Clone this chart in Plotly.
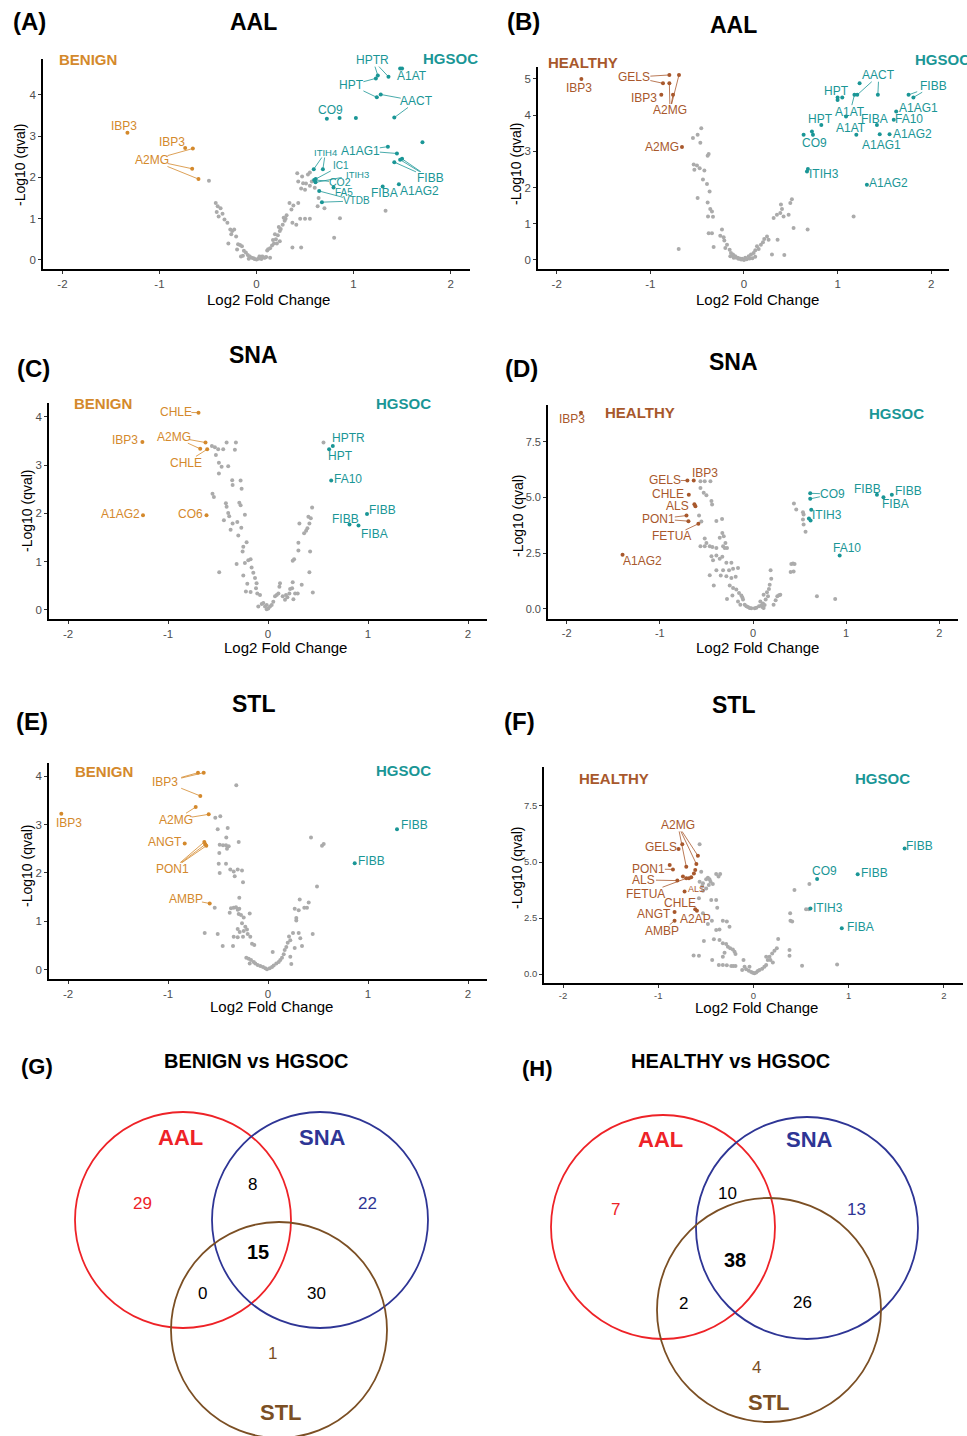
import math
import plotly.graph_objects as go

W, H = 967, 1436
FONT = "Liberation Sans, Arial, sans-serif"

# ======================= DATA =======================
# colours
C_BENIGN = "#D4892C"
C_HEALTHY = "#A8582C"
C_HGSOC = "#1A9696"
C_GRAY = "#ABABAB"

# ---------- Panel A : AAL, BENIGN vs HGSOC ----------
A_gray = [(-0.49, 1.92), (-0.42, 1.38), (-0.40, 1.30), (-0.37, 1.25), (-0.41, 1.16), (-0.35, 1.12),
          (-0.39, 1.05), (-0.33, 0.98), (-0.30, 0.90), (-0.27, 0.74), (-0.25, 0.70), (-0.23, 0.74),
          (-0.26, 0.62), (-0.21, 0.57), (-0.29, 0.40), (-0.19, 0.38), (-0.17, 0.36), (-0.15, 0.33),
          (-0.20, 0.25), (-0.13, 0.22), (-0.11, 0.18), (-0.09, 0.12), (-0.14, 0.10), (-0.07, 0.08),
          (-0.05, 0.05), (-0.03, 0.04), (-0.02, 0.02), (-0.08, 0.03), (-0.16, 0.08), (0.00, 0.01),
          (0.02, 0.03), (0.04, 0.06), (0.06, 0.08), (0.08, 0.05), (0.05, 0.02), (0.10, 0.07),
          (0.03, 0.08), (0.11, 0.23), (0.12, 0.26), (0.14, 0.28), (0.16, 0.35), (0.18, 0.40),
          (0.17, 0.48), (0.20, 0.50), (0.22, 0.60), (0.19, 0.62), (0.24, 0.70), (0.25, 0.75),
          (0.23, 0.80), (0.27, 0.85), (0.29, 0.95), (0.30, 1.00), (0.28, 1.02), (0.31, 1.08),
          (0.34, 1.38), (0.36, 1.22), (0.38, 1.32), (0.43, 1.38), (0.45, 1.00), (0.50, 1.00),
          (0.55, 1.00), (0.37, 0.90), (0.41, 0.85), (0.24, 0.45), (0.21, 0.40), (0.37, 0.30),
          (0.46, 0.30), (0.09, 0.06), (0.14, 0.05), (0.42, 2.10), (0.47, 2.02), (0.43, 1.90),
          (0.48, 1.86), (0.53, 2.07), (0.55, 2.12), (0.51, 1.85), (0.55, 1.80), (0.57, 1.90),
          (0.50, 1.70), (0.46, 1.73), (0.60, 1.75), (0.64, 1.50), (0.63, 1.30), (0.70, 1.25),
          (0.86, 1.01), (0.80, 0.54), (1.33, 1.19)]
A_low = [("IBP3", -1.33, 3.08), ("IBP3", -0.735, 2.71), ("A2MG", -0.656, 2.70),
         ("A2MG", -0.663, 2.21), ("A2MG", -0.598, 1.96)]
A_high = [("HPTR", 1.25, 4.47), ("HPTR", 1.36, 4.44), ("HPT", 1.23, 4.40), ("HPT", 1.24, 3.94),
          ("A1AT", 1.48, 4.64), ("A1AT", 1.50, 4.64), ("AACT", 1.28, 4.01), ("AACT", 1.42, 3.45),
          ("CO9", 0.725, 3.42), ("-", 0.856, 3.44), ("-", 1.024, 3.44), ("FA10", 2.25, 2.89),
          ("-", 1.71, 2.85), ("A1AG1", 1.354, 2.745), ("A1AG1", 1.447, 2.58), ("FIBB", 1.42, 2.37),
          ("FIBB", 1.48, 2.43), ("FIBB", 1.50, 2.45), ("FIBA", 1.30, 1.78), ("A1AG2", 1.467, 1.835),
          ("ITIH4", 0.59, 2.20), ("ITIH4", 0.684, 2.20), ("IC1", 0.61, 1.96), ("ITIH3", 0.608, 1.88),
          ("CO2", 0.594, 1.94), ("FA5", 0.794, 1.755), ("VTDB", 0.646, 1.67), ("VTDB", 0.674, 1.40)]

# ---------- Panel B : AAL, HEALTHY vs HGSOC ----------
B_gray = [(-0.456, 3.64), (-0.545, 3.37), (-0.495, 3.46), (-0.466, 3.24), (-0.377, 2.93), (-0.388, 2.88),
          (-0.537, 2.64), (-0.502, 2.61), (-0.473, 2.53), (-0.530, 2.49), (-0.423, 2.47), (-0.438, 2.22),
          (-0.395, 2.10), (-0.367, 1.89), (-0.495, 1.71), (-0.388, 1.59), (-0.360, 1.41), (-0.342, 1.34),
          (-0.384, 1.20), (-0.331, 1.19), (-0.377, 0.74), (-0.342, 0.74), (-0.235, 0.84), (-0.253, 0.67),
          (-0.217, 0.63), (-0.210, 0.54), (-0.324, 0.36), (-0.181, 0.42), (-0.199, 0.33), (-0.153, 0.28),
          (-0.139, 0.19), (-0.117, 0.15), (-0.093, 0.10), (-0.068, 0.06), (-0.046, 0.04), (-0.146, 0.10),
          (-0.110, 0.06), (-0.697, 0.30), (-0.020, 0.03), (0.014, 0.06), (0.050, 0.10), (0.075, 0.15),
          (0.103, 0.19), (0.121, 0.27), (0.157, 0.30), (0.139, 0.38), (0.181, 0.42), (0.203, 0.49),
          (0.217, 0.58), (0.246, 0.65), (0.263, 0.56), (0.299, 0.15), (0.359, 0.56), (0.431, 0.14),
          (0.317, 1.16), (0.352, 1.25), (0.388, 1.30), (0.406, 1.41), (0.395, 1.53), (0.423, 1.20),
          (0.477, 1.25), (0.495, 1.57), (0.512, 1.68), (0.530, 0.88), (0.680, 0.84), (1.171, 1.20),
          (0.000, 0.00), (-0.030, 0.01), (0.030, 0.02), (0.060, 0.04), (-0.060, 0.03), (0.090, 0.05),
          (-0.090, 0.07), (0.120, 0.09), (-0.120, 0.12)]
B_low = [("IBP3", -1.737, 5.00), ("GELS", -0.797, 5.11), ("GELS", -0.865, 4.88), ("A2MG", -0.694, 5.11),
         ("A2MG", -0.797, 4.88), ("A2MG", -0.758, 4.56), ("IBP3", -0.883, 4.56), ("A2MG", -0.662, 3.12)]
B_high = [("-", 1.235, 4.88), ("AACT", 1.21, 4.56), ("AACT", 1.43, 4.56), ("HPT", 1.00, 4.49),
          ("-", 1.05, 4.49), ("-", 1.00, 4.42), ("A1AT", 1.18, 4.56), ("-", 1.09, 3.96),
          ("HPT", 0.826, 3.73), ("CO9", 0.726, 3.55), ("-", 0.737, 3.46), ("-", 0.637, 3.46),
          ("FIBA", 1.42, 3.73), ("A1AT", 1.20, 3.46), ("FIBB", 1.758, 4.56), ("FIBB", 1.81, 4.49),
          ("A1AG1", 1.626, 4.10), ("FA10", 1.60, 3.87), ("A1AG2", 1.555, 3.47), ("A1AG1", 1.45, 3.47),
          ("ITIH3", 0.683, 2.51), ("-", 0.673, 2.44), ("A1AG2", 1.313, 2.08)]

# ---------- Panel C : SNA, BENIGN vs HGSOC ----------
C_gray = [(-0.561, 3.40), (-0.531, 3.37), (-0.498, 3.33), (-0.521, 3.21), (-0.448, 3.33), (-0.414, 3.47),
          (-0.321, 3.47), (-0.331, 3.32), (-0.491, 3.05), (-0.398, 2.98), (-0.464, 2.97), (-0.491, 2.83),
          (-0.358, 2.69), (-0.354, 2.59), (-0.274, 2.68), (-0.264, 2.51), (-0.555, 2.41), (-0.541, 2.34),
          (-0.421, 2.21), (-0.414, 2.14), (-0.287, 2.22), (-0.274, 2.17), (-0.398, 2.01), (-0.388, 1.94),
          (-0.441, 1.86), (-0.354, 1.79), (-0.231, 1.97), (-0.307, 1.82), (-0.267, 1.70), (-0.297, 1.54),
          (-0.374, 1.66), (-0.214, 1.40), (-0.247, 1.31), (-0.254, 1.21), (-0.197, 1.03), (-0.174, 1.05),
          (-0.314, 0.95), (-0.231, 0.97), (-0.488, 0.78), (-0.164, 0.88), (-0.147, 0.77), (-0.247, 0.71),
          (-0.130, 0.66), (-0.207, 0.54), (-0.114, 0.55), (-0.120, 0.45), (-0.221, 0.38), (-0.174, 0.37),
          (-0.107, 0.34), (-0.080, 0.31), (-0.097, 0.07), (-0.063, 0.12), (-0.047, 0.14), (-0.030, 0.07),
          (-0.013, 0.01), (0.003, 0.03), (0.020, 0.07), (0.037, 0.10), (-0.013, 0.10), (0.053, 0.17),
          (0.070, 0.28), (0.087, 0.31), (0.104, 0.34), (0.120, 0.55), (0.114, 0.48), (0.147, 0.28),
          (0.170, 0.21), (0.180, 0.31), (0.194, 0.26), (0.214, 0.34), (0.221, 0.43), (0.241, 0.45),
          (0.254, 0.22), (0.271, 0.34), (0.297, 0.34), (0.247, 0.57), (0.247, 1.02), (0.261, 1.05),
          (0.337, 0.52), (0.304, 1.23), (0.304, 1.39), (0.314, 1.79), (0.361, 1.59), (0.381, 1.64),
          (0.394, 1.69), (0.414, 1.79), (0.428, 1.90), (0.404, 1.93), (0.441, 2.12), (0.421, 1.21),
          (0.414, 0.78), (0.448, 0.36), (0.555, 3.47)]
C_low = [("CHLE", -0.695, 4.09), ("IBP3", -1.256, 3.48), ("A2MG", -0.625, 3.47), ("A2MG", -0.678, 3.34),
         ("CHLE", -0.608, 3.33), ("A1AG2", -1.25, 1.96), ("CO6", -0.615, 1.96)]
C_high = [("HPTR", 0.648, 3.40), ("HPT", 0.611, 3.33), ("FA10", 0.632, 2.68), ("FIBB", 0.99, 1.99),
          ("FIBB", 0.815, 1.77), ("FIBA", 0.905, 1.75)]

# ---------- Panel D : SNA, HEALTHY vs HGSOC ----------
D_gray = [(-0.564, 5.73), (-0.518, 5.73), (-0.457, 5.73), (-0.564, 5.43), (-0.529, 5.21), (-0.500, 5.10),
          (-0.446, 4.84), (-0.439, 4.69), (-0.579, 4.19), (-0.554, 3.92), (-0.393, 3.95), (-0.332, 4.04),
          (-0.518, 3.16), (-0.500, 2.96), (-0.564, 2.81), (-0.518, 2.81), (-0.464, 2.81), (-0.436, 2.78),
          (-0.393, 2.74), (-0.357, 3.19), (-0.329, 3.41), (-0.314, 3.26), (-0.296, 2.96), (-0.279, 2.74),
          (-0.321, 2.81), (-0.304, 2.74), (-0.446, 2.37), (-0.393, 2.40), (-0.357, 2.25), (-0.329, 2.34),
          (-0.429, 2.19), (-0.286, 2.07), (-0.232, 2.07), (-0.214, 1.80), (-0.161, 1.84), (-0.393, 1.74),
          (-0.321, 1.74), (-0.257, 1.74), (-0.464, 1.51), (-0.346, 1.50), (-0.286, 1.47), (-0.232, 1.39),
          (-0.186, 1.44), (-0.421, 1.05), (-0.250, 1.05), (-0.214, 0.94), (-0.179, 0.87), (-0.150, 0.72),
          (-0.125, 0.60), (-0.114, 0.52), (-0.279, 0.45), (-0.221, 0.60), (-0.161, 0.34), (-0.136, 0.19),
          (-0.089, 0.19), (-0.071, 0.12), (-0.054, 0.09), (-0.036, 0.04), (-0.018, 0.03), (-0.107, 0.42),
          (0.018, 0.03), (0.036, 0.06), (0.064, 0.12), (0.089, 0.15), (0.107, 0.24), (0.079, 0.34),
          (0.125, 0.18), (0.136, 0.42), (0.161, 0.57), (0.114, 0.64), (0.150, 0.75), (0.171, 0.90),
          (0.179, 1.09), (0.196, 1.35), (0.189, 1.74), (0.221, 0.19), (0.243, 0.39), (0.261, 0.57),
          (0.279, 0.61), (0.293, 0.64), (0.411, 2.02), (0.429, 2.04), (0.446, 2.02), (0.404, 1.66),
          (0.436, 1.68), (0.439, 4.73), (0.464, 4.46), (0.536, 4.34), (0.543, 4.24), (0.536, 4.01),
          (0.543, 3.79), (0.564, 3.46), (0.686, 0.57), (0.882, 0.45), (0.100, 0.09), (0.114, 0.04)]
D_low = [("IBP3", -1.846, 8.80), ("GELS", -0.704, 5.76), ("IBP3", -0.636, 5.76), ("CHLE", -0.689, 5.12),
         ("ALS", -0.629, 4.70), ("-", -0.618, 4.61), ("PON1", -0.714, 4.19), ("PON1", -0.693, 3.94),
         ("FETUA", -0.586, 3.82), ("A1AG2", -1.40, 2.43)]
D_high = [("CO9", 0.614, 5.19), ("CO9", 0.614, 4.94), ("ITIH3", 0.625, 4.45), ("ITIH3", 0.600, 4.06),
          ("-", 0.618, 3.97), ("FIBB", 1.33, 5.12), ("FIBB", 1.49, 5.12), ("FIBA", 1.40, 5.01),
          ("FA10", 0.93, 2.40)]

# ---------- Panel E : STL, BENIGN vs HGSOC ----------
E_gray = [(-0.317, 3.81), (-0.527, 3.14), (-0.477, 3.17), (-0.503, 2.90), (-0.403, 2.93), (-0.417, 2.73),
          (-0.483, 2.58), (-0.450, 2.57), (-0.420, 2.57), (-0.393, 2.55), (-0.410, 2.50), (-0.293, 2.64),
          (-0.487, 2.41), (-0.493, 2.19), (-0.420, 2.19), (-0.377, 2.07), (-0.343, 2.03), (-0.303, 2.07),
          (-0.260, 2.05), (-0.483, 2.00), (-0.333, 1.93), (-0.250, 1.81), (-0.287, 1.49), (-0.533, 1.28),
          (-0.370, 1.27), (-0.343, 1.28), (-0.320, 1.29), (-0.303, 1.24), (-0.287, 1.26), (-0.383, 1.18),
          (-0.293, 1.15), (-0.270, 1.13), (-0.243, 1.08), (-0.183, 1.16), (-0.260, 0.96), (-0.227, 0.89),
          (-0.303, 0.84), (-0.283, 0.78), (-0.243, 0.80), (-0.210, 0.83), (-0.203, 0.74), (-0.177, 0.68),
          (-0.160, 0.54), (-0.137, 0.51), (-0.343, 0.68), (-0.303, 0.67), (-0.250, 0.68), (-0.350, 0.49),
          (-0.633, 0.76), (-0.503, 0.74), (-0.453, 0.49), (-0.217, 0.25), (-0.193, 0.23), (-0.170, 0.20),
          (-0.143, 0.16), (-0.127, 0.13), (-0.103, 0.10), (-0.077, 0.08), (-0.050, 0.06), (-0.027, 0.03),
          (-0.010, 0.01), (-0.183, 0.13), (0.017, 0.03), (0.040, 0.06), (0.057, 0.09), (0.083, 0.13),
          (0.107, 0.16), (0.123, 0.20), (0.140, 0.25), (0.047, 0.37), (0.157, 0.32), (0.167, 0.41),
          (0.183, 0.47), (0.197, 0.56), (0.223, 0.61), (0.210, 0.69), (0.223, 0.27), (0.233, 0.12),
          (0.250, 0.76), (0.267, 0.45), (0.283, 1.02), (0.283, 1.07), (0.307, 1.23), (0.267, 1.26),
          (0.317, 1.45), (0.363, 1.28), (0.390, 1.28), (0.407, 1.39), (0.323, 0.65), (0.340, 0.49),
          (0.307, 0.76), (0.447, 0.74), (0.490, 1.72), (0.430, 2.73), (0.540, 2.56), (0.557, 2.60)]
E_low = [("IBP3", -2.067, 3.22), ("IBP3", -0.700, 4.07), ("IBP3", -0.643, 4.07), ("IBP3", -0.677, 3.59),
         ("A2MG", -0.723, 3.36), ("A2MG", -0.593, 3.21), ("ANGT", -0.833, 2.61), ("PON1", -0.637, 2.64),
         ("PON1", -0.627, 2.59), ("PON1", -0.617, 2.56), ("AMBP", -0.583, 1.37)]
E_high = [("FIBB", 1.29, 2.90), ("FIBB", 0.867, 2.20)]

# ---------- Panel F : STL, HEALTHY vs HGSOC ----------
F_gray = [(-0.566, 5.79), (-0.549, 4.57), (-0.566, 4.12), (-0.531, 4.05), (-0.538, 3.93), (-0.497, 4.23),
          (-0.479, 4.30), (-0.462, 4.23), (-0.451, 4.12), (-0.427, 4.02), (-0.392, 4.46), (-0.350, 4.46),
          (-0.367, 4.35), (-0.497, 3.82), (-0.469, 3.97), (-0.531, 3.72), (-0.573, 3.38), (-0.444, 3.30),
          (-0.392, 3.30), (-0.381, 2.96), (-0.531, 2.71), (-0.479, 2.23), (-0.437, 2.38), (-0.392, 1.96),
          (-0.357, 1.99), (-0.322, 2.38), (-0.280, 2.34), (-0.252, 2.11), (-0.521, 1.47), (-0.416, 1.55),
          (-0.357, 1.52), (-0.322, 1.37), (-0.287, 1.34), (-0.269, 1.22), (-0.245, 1.15), (-0.217, 1.10),
          (-0.199, 1.00), (-0.189, 0.89), (-0.629, 0.83), (-0.573, 0.82), (-0.434, 0.63), (-0.364, 0.40),
          (-0.322, 0.40), (-0.280, 0.39), (-0.234, 0.36), (-0.213, 0.36), (-0.189, 0.36), (-0.322, 0.77),
          (-0.304, 0.95), (-0.105, 0.63), (-0.094, 0.33), (-0.077, 0.21), (-0.049, 0.15), (-0.024, 0.09),
          (-0.007, 0.06), (0.010, 0.03), (0.028, 0.07), (0.045, 0.13), (0.063, 0.18), (0.091, 0.24),
          (0.115, 0.33), (0.133, 0.40), (0.150, 0.63), (0.168, 0.77), (0.196, 0.92), (0.220, 1.04),
          (0.245, 1.15), (0.259, 1.56), (0.133, 0.77), (0.178, 0.63), (0.203, 0.51), (-0.042, 0.33),
          (-0.119, 0.18), (0.385, 2.71), (0.378, 1.07), (0.378, 0.82), (0.388, 2.38), (0.406, 2.35),
          (0.430, 3.75), (0.510, 0.37), (0.552, 2.89), (0.580, 2.89), (0.587, 4.02), (0.878, 0.43)]
F_low = [("A2MG", -0.706, 4.79), ("A2MG", -0.600, 4.91), ("A2MG", -0.584, 5.28), ("GELS", -0.787, 5.58),
         ("-", -0.748, 5.79), ("PON1", -0.880, 4.87), ("-", -0.846, 4.67), ("ALS", -0.800, 4.17),
         ("FETUA", -0.706, 4.27), ("-", -0.741, 4.35), ("-", -0.678, 4.27), ("-", -0.654, 4.32),
         ("-", -0.626, 4.49), ("-", -0.612, 4.64), ("ALS", -0.724, 3.68), ("CHLE", -0.612, 2.89),
         ("A2AP", -0.594, 2.83), ("ANGT", -0.829, 2.77), ("AMBP", -0.829, 2.38)]
F_high = [("FIBB", 1.587, 5.60), ("CO9", 0.668, 4.24), ("FIBB", 1.094, 4.45), ("ITIH3", 0.598, 2.92),
          ("FIBA", 0.927, 2.04)]

# ---------- Venn counts ----------
VENN_SETS = ["AAL", "SNA", "STL"]
VENN_REGIONS = ["AAL", "SNA", "STL", "AAL&SNA", "AAL&STL", "SNA&STL", "AAL&SNA&STL"]
G_counts = [29, 22, 1, 8, 0, 30, 15]
H_counts = [7, 13, 4, 10, 2, 26, 38]

# ======================= LAYOUT (positions / styles) =======================
# label placement: (text, label_x, label_y, side, point indices, font size)
A_labels = [("IBP3", -1.37, 3.24, "lo", [0], 12), ("IBP3", -0.87, 2.86, "lo", [1], 12),
            ("A2MG", -1.08, 2.42, "lo", [2, 3, 4], 12),
            ("HPTR", 1.20, 4.84, "hi", [0, 1], 12), ("A1AT", 1.60, 4.45, "hi", [4, 5], 12),
            ("HPT", 0.975, 4.24, "hi", [2, 3], 12), ("AACT", 1.65, 3.85, "hi", [6, 7], 12),
            ("CO9", 0.76, 3.63, "hi", [8], 12), ("FA10", 2.29, 3.07, "hi", [11], 12),
            ("A1AG1", 1.07, 2.65, "hi", [13, 14], 12), ("FIBB", 1.79, 1.98, "hi", [15, 16, 17], 12),
            ("FIBA", 1.32, 1.62, "hi", [18], 12), ("A1AG2", 1.68, 1.68, "hi", [19], 12),
            ("ITIH4", 0.71, 2.61, "hi", [20, 21], 9.5), ("IC1", 0.87, 2.29, "hi", [22], 10),
            ("ITIH3", 1.04, 2.07, "hi", [23], 9.5), ("CO2", 0.86, 1.88, "hi", [24], 10.5),
            ("FA5", 0.90, 1.63, "hi", [25], 10), ("VTDB", 1.03, 1.43, "hi", [26, 27], 10)]
B_labels = [("IBP3", -1.76, 4.74, "lo", [0], 12), ("GELS", -1.17, 5.05, "lo", [1, 2], 12),
            ("IBP3", -1.07, 4.47, "lo", [6], 12), ("A2MG", -0.79, 4.13, "lo", [3, 4, 5], 12),
            ("A2MG", -0.875, 3.13, "lo", [7], 12),
            ("AACT", 1.44, 5.10, "hi", [1, 2], 12), ("HPT", 0.99, 4.68, "hi", [3], 12),
            ("A1AT", 1.135, 4.10, "hi", [6], 12), ("HPT", 0.815, 3.89, "hi", [8], 12),
            ("CO9", 0.75, 3.23, "hi", [9], 12), ("FIBA", 1.39, 3.90, "hi", [12], 12),
            ("A1AT", 1.146, 3.64, "hi", [13], 12), ("FIBB", 2.02, 4.81, "hi", [14, 15], 12),
            ("A1AG1", 1.86, 4.21, "hi", [16], 12), ("FA10", 1.765, 3.89, "hi", [17], 12),
            ("A1AG2", 1.80, 3.47, "hi", [18], 12), ("A1AG1", 1.47, 3.18, "hi", [19], 12),
            ("ITIH3", 0.85, 2.38, "hi", [20], 12), ("A1AG2", 1.545, 2.12, "hi", [22], 12)]
C_labels = [("CHLE", -0.925, 4.10, "lo", [0], 12), ("IBP3", -1.433, 3.52, "lo", [1], 12),
            ("A2MG", -0.942, 3.59, "lo", [2, 3], 12), ("CHLE", -0.822, 3.05, "lo", [4], 12),
            ("A1AG2", -1.48, 1.98, "lo", [5], 12), ("CO6", -0.78, 1.98, "lo", [6], 12),
            ("HPTR", 0.80, 3.57, "hi", [0], 12), ("HPT", 0.72, 3.19, "hi", [1], 12),
            ("FA10", 0.795, 2.71, "hi", [2], 12), ("FIBB", 1.14, 2.07, "hi", [3], 12),
            ("FIBB", 0.77, 1.88, "hi", [4], 12), ("FIBA", 1.066, 1.57, "hi", [5], 12)]
D_labels = [("IBP3", -1.94, 8.50, "lo", [0], 12), ("GELS", -0.946, 5.78, "lo", [1], 12),
            ("IBP3", -0.51, 6.08, "lo", [2], 12), ("CHLE", -0.91, 5.15, "lo", [3], 12),
            ("ALS", -0.81, 4.60, "lo", [4], 12), ("PON1", -1.01, 4.04, "lo", [6, 7], 12),
            ("FETUA", -0.871, 3.26, "lo", [8], 12), ("A1AG2", -1.19, 2.14, "lo", [9], 12),
            ("CO9", 0.85, 5.15, "hi", [0, 1], 12), ("ITIH3", 0.793, 4.21, "hi", [2, 3], 12),
            ("FIBB", 1.225, 5.39, "hi", [5], 12), ("FIBB", 1.67, 5.30, "hi", [6], 12),
            ("FIBA", 1.53, 4.69, "hi", [7], 12), ("FA10", 1.01, 2.72, "hi", [8], 12)]
E_labels = [("IBP3", -1.99, 3.04, "lo", [0], 12), ("IBP3", -1.027, 3.88, "lo", [1, 2, 3], 12),
            ("A2MG", -0.92, 3.10, "lo", [4, 5], 12), ("ANGT", -1.027, 2.63, "lo", [6], 12),
            ("PON1", -0.953, 2.08, "lo", [7, 8, 9], 12), ("AMBP", -0.82, 1.46, "lo", [10], 12),
            ("FIBB", 1.467, 2.99, "hi", [0], 12), ("FIBB", 1.03, 2.24, "hi", [1], 12)]
F_labels = [("A2MG", -0.794, 6.65, "lo", [0, 1, 2], 12), ("GELS", -0.969, 5.65, "lo", [3], 12),
            ("PON1", -1.098, 4.69, "lo", [5, 6], 12), ("ALS", -1.154, 4.20, "lo", [7], 12),
            ("FETUA", -1.136, 3.59, "lo", [8], 12), ("ALS", -0.594, 3.78, "lo", [14], 9),
            ("CHLE", -0.769, 3.18, "lo", [15], 12), ("ANGT", -1.045, 2.66, "lo", [17], 12),
            ("A2AP", -0.608, 2.46, "lo", [16], 12), ("AMBP", -0.962, 1.92, "lo", [18], 12),
            ("FIBB", 1.748, 5.71, "hi", [0], 12), ("CO9", 0.748, 4.61, "hi", [1], 12),
            ("FIBB", 1.27, 4.51, "hi", [2], 12), ("ITIH3", 0.78, 2.93, "hi", [3], 12),
            ("FIBA", 1.119, 2.10, "hi", [4], 12)]

YT_SMALL = ([0, 1, 2, 3, 4], ["0", "1", "2", "3", "4"])
YT_B = ([0, 1, 2, 3, 4, 5], ["0", "1", "2", "3", "4", "5"])
YT_BIG = ([0, 2.5, 5, 7.5], ["0.0", "2.5", "5.0", "7.5"])

PANELS = [
    dict(tag="(A)", title="AAL", left="BENIGN", lcol=C_BENIGN, gray=A_gray, low=A_low, high=A_high,
         labels=A_labels, xpx=(43, 470), ypx=(59, 269), xr=(-2.2, 2.2), yr=(-0.22, 4.87), yt=YT_SMALL,
         tick=11.5, tagpos=(29, 21), titlepos=(253, 22), leftpos=(88, 59), hgpos=(450, 58),
         xtpos=(268, 300), ytpos=(20, 165)),
    dict(tag="(B)", title="AAL", left="HEALTHY", lcol=C_HEALTHY, gray=B_gray, low=B_low, high=B_high,
         labels=B_labels, xpx=(538, 949), ypx=(67, 269), xr=(-2.2, 2.19), yr=(-0.25, 5.33), yt=YT_B,
         tick=11.5, tagpos=(523, 21), titlepos=(733, 25), leftpos=(583, 62), hgpos=(942, 59),
         xtpos=(757, 300), ytpos=(516, 164)),
    dict(tag="(C)", title="SNA", left="BENIGN", lcol=C_BENIGN, gray=C_gray, low=C_low, high=C_high,
         labels=C_labels, xpx=(49, 487), ypx=(403, 619), xr=(-2.19, 2.19), yr=(-0.19, 4.29), yt=YT_SMALL,
         tick=11.5, tagpos=(33, 368), titlepos=(253, 355), leftpos=(103, 403), hgpos=(403, 403),
         xtpos=(285, 647), ytpos=(27, 511)),
    dict(tag="(D)", title="SNA", left="HEALTHY", lcol=C_HEALTHY, gray=D_gray, low=D_low, high=D_high,
         labels=D_labels, xpx=(548, 958), ypx=(405, 619), xr=(-2.2, 2.2), yr=(-0.45, 9.15), yt=YT_BIG,
         tick=11, tagpos=(521, 368), titlepos=(733, 362), leftpos=(640, 412), hgpos=(896, 413),
         xtpos=(757, 647), ytpos=(518, 516)),
    dict(tag="(E)", title="STL", left="BENIGN", lcol=C_BENIGN, gray=E_gray, low=E_low, high=E_high,
         labels=E_labels, xpx=(49, 487), ypx=(763, 979), xr=(-2.19, 2.19), yr=(-0.19, 4.27), yt=YT_SMALL,
         tick=11.5, tagpos=(32, 722), titlepos=(253, 704), leftpos=(104, 771), hgpos=(403, 770),
         xtpos=(271, 1007), ytpos=(27, 866)),
    dict(tag="(F)", title="STL", left="HEALTHY", lcol=C_HEALTHY, gray=F_gray, low=F_low, high=F_high,
         labels=F_labels, xpx=(544, 963), ypx=(767, 983), xr=(-2.2, 2.2), yr=(-0.4, 9.24), yt=YT_BIG,
         tick=9.5, tagpos=(519, 722), titlepos=(733, 705), leftpos=(614, 778), hgpos=(882, 778),
         xtpos=(756, 1008), ytpos=(517, 868)),
]

VENNS = [
    dict(tag="(G)", title="BENIGN vs HGSOC", counts=G_counts, tagpos=(37, 1066), titlepos=(256, 1061),
         circles=[(183, 1220, 108), (320, 1220, 108), (279, 1330, 108)],
         setpos=[(180, 1137), (322, 1137), (281, 1412)],
         regpos=[(142, 1203), (367, 1203), (272, 1353), (252, 1184), (202, 1293), (316, 1293), (258, 1252)]),
    dict(tag="(H)", title="HEALTHY vs HGSOC", counts=H_counts, tagpos=(537, 1068), titlepos=(730, 1061),
         circles=[(663, 1227, 112), (807, 1228, 111), (769, 1310, 112)],
         setpos=[(660, 1139), (809, 1139), (769, 1402)],
         regpos=[(615, 1209), (856, 1209), (756, 1367), (727, 1193), (683, 1303), (802, 1302), (735, 1260)]),
]
VENN_COLORS = ["#EE2227", "#2E3595", "#7B4F24"]

# ======================= BUILD =======================
fig = go.Figure()
layout = dict(width=W, height=H, margin=dict(l=0, r=0, t=0, b=0), autosize=False,
              paper_bgcolor="white", plot_bgcolor="white", template="none", showlegend=False,
              font=dict(family=FONT, color="black"))
annotations = []
shapes = []


def px2paper(x, y):
    return x / W, 1 - y / H


def text_ann(pos, text, size, color="black", bold=False, angle=0):
    x, y = px2paper(*pos)
    annotations.append(dict(x=x, y=y, xref="paper", yref="paper", text=("<b>%s</b>" % text) if bold else text,
                            showarrow=False, xanchor="center", yanchor="middle", textangle=angle,
                            font=dict(family=FONT, size=size, color=color)))


for k, P in enumerate(PANELS):
    n = "" if k == 0 else str(k + 1)
    xa, ya = "x" + n, "y" + n
    x0, x1 = P["xpx"]
    y0, y1 = P["ypx"]
    common = dict(showline=True, linecolor="black", linewidth=1.7, ticks="outside", ticklen=3,
                  tickwidth=1.2, tickcolor="#333333",
                  tickfont=dict(family=FONT, size=P["tick"], color="#4D4D4D"),
                  showgrid=False, zeroline=False, automargin=False, fixedrange=True, mirror=False)
    layout["xaxis" + n] = dict(domain=[x0 / W, x1 / W], range=list(P["xr"]), anchor=ya,
                               tickmode="array", tickvals=[-2, -1, 0, 1, 2],
                               ticktext=["-2", "-1", "0", "1", "2"], **common)
    layout["yaxis" + n] = dict(domain=[1 - y1 / H, 1 - y0 / H], range=list(P["yr"]), anchor=xa,
                               tickmode="array", tickvals=P["yt"][0], ticktext=P["yt"][1], **common)

    sx = (x1 - x0) / (P["xr"][1] - P["xr"][0])
    sy = (y1 - y0) / (P["yr"][1] - P["yr"][0])

    # gray (non-significant) points
    fig.add_trace(go.Scatter(x=[p[0] for p in P["gray"]], y=[p[1] for p in P["gray"]], mode="markers",
                             marker=dict(size=4, color=C_GRAY), xaxis=xa, yaxis=ya, hoverinfo="skip",
                             cliponaxis=False))

    # repel segments
    segs = {"lo": ([], []), "hi": ([], [])}
    for text, lx, ly, side, idxs, size in P["labels"]:
        pts = P["low"] if side == "lo" else P["high"]
        hw = 0.30 * size * len(text) + 1.5
        hh = 0.45 * size + 1
        for i in idxs:
            tx, ty = pts[i][1], pts[i][2]
            dx = (tx - lx) * sx
            dy = (ty - ly) * sy
            ts = []
            if abs(dx) > 1e-9:
                ts.append(hw / abs(dx))
            if abs(dy) > 1e-9:
                ts.append(hh / abs(dy))
            t = min(ts) if ts else 1
            if t >= 1:
                continue
            if (1 - t) * math.hypot(dx, dy) < 5:
                continue
            segs[side][0].extend([lx + t * (tx - lx), tx, None])
            segs[side][1].extend([ly + t * (ty - ly), ty, None])
        col = P["lcol"] if side == "lo" else C_HGSOC
        annotations.append(dict(x=lx, y=ly, xref=xa, yref=ya, text=text, showarrow=False,
                                xanchor="center", yanchor="middle",
                                font=dict(family=FONT, size=size, color=col)))
    for side, col in (("lo", P["lcol"]), ("hi", C_HGSOC)):
        if segs[side][0]:
            fig.add_trace(go.Scatter(x=segs[side][0], y=segs[side][1], mode="lines",
                                     line=dict(color=col, width=0.8), xaxis=xa, yaxis=ya,
                                     hoverinfo="skip", cliponaxis=False))

    # significant points
    fig.add_trace(go.Scatter(x=[p[1] for p in P["low"]], y=[p[2] for p in P["low"]], mode="markers",
                             marker=dict(size=4, color=P["lcol"]), xaxis=xa, yaxis=ya,
                             text=[p[0] for p in P["low"]], cliponaxis=False))
    fig.add_trace(go.Scatter(x=[p[1] for p in P["high"]], y=[p[2] for p in P["high"]], mode="markers",
                             marker=dict(size=4, color=C_HGSOC), xaxis=xa, yaxis=ya,
                             text=[p[0] for p in P["high"]], cliponaxis=False))

    # panel texts
    text_ann(P["tagpos"], P["tag"], 24, bold=True)
    text_ann(P["titlepos"], P["title"], 23, bold=True)
    text_ann(P["leftpos"], P["left"], 15, color=P["lcol"], bold=True)
    text_ann(P["hgpos"], "HGSOC", 15, color=C_HGSOC, bold=True)
    text_ann(P["xtpos"], "Log2 Fold Change", 15)
    text_ann(P["ytpos"], "-Log10 (qval)", 14, angle=-90)

# Venn diagrams
for V in VENNS:
    text_ann(V["tagpos"], V["tag"], 22, bold=True)
    text_ann(V["titlepos"], V["title"], 20, bold=True)
    for (cx, cy, r), col, name, spos in zip(V["circles"], VENN_COLORS, VENN_SETS, V["setpos"]):
        shapes.append(dict(type="circle", xref="paper", yref="paper",
                           x0=(cx - r) / W, x1=(cx + r) / W, y0=1 - (cy + r) / H, y1=1 - (cy - r) / H,
                           line=dict(color=col, width=1.8), fillcolor="rgba(0,0,0,0)"))
        text_ann(spos, name, 22, color=col, bold=True)
    for j, (cnt, rpos) in enumerate(zip(V["counts"], V["regpos"])):
        col = VENN_COLORS[j] if j < 3 else "black"
        if j == 6:
            text_ann(rpos, str(cnt), 20, bold=True)
        else:
            text_ann(rpos, str(cnt), 17, color=col)

layout["annotations"] = annotations
layout["shapes"] = shapes
fig.update_layout(**layout)
fig.write_html("out.html", config={"displayModeBar": False},
               post_script="document.body.style.margin='0';document.body.style.padding='0';"
                           "document.body.style.overflow='hidden';")
